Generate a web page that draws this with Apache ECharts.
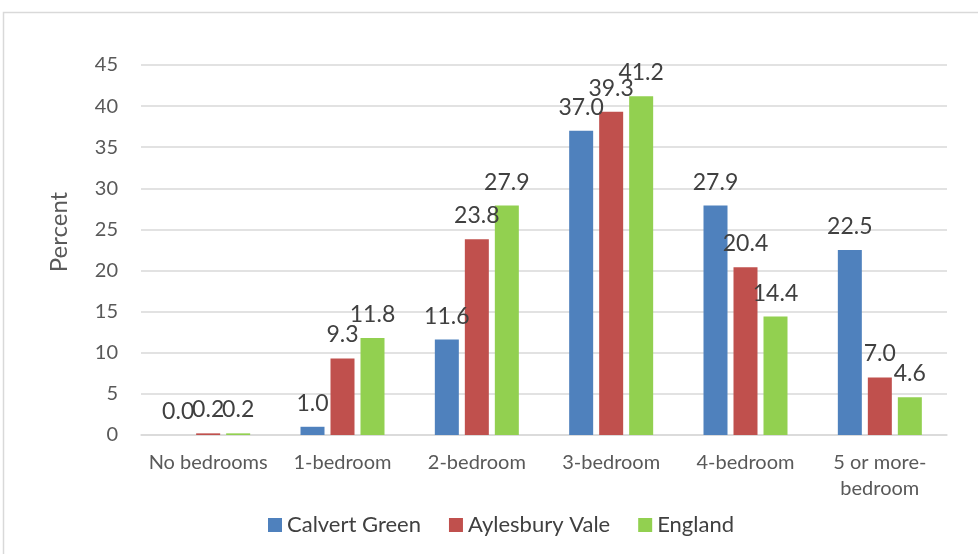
<!DOCTYPE html>
<html><head><meta charset="utf-8">
<script src="https://cdn.jsdelivr.net/npm/echarts@6/dist/echarts.min.js"></script>
<style>html,body{margin:0;padding:0;background:#fff}#c{width:978px;height:554px}</style>
</head><body><div id="c"></div>
<script>
const categories = ['No bedrooms','1-bedroom','2-bedroom','3-bedroom','4-bedroom','5 or more-\nbedroom'];
const calvertGreen = [0.0, 1.0, 11.6, 37.0, 27.9, 22.5];
const aylesburyVale = [0.2, 9.3, 23.8, 39.3, 20.4, 7.0];
const england = [0.2, 11.8, 27.9, 41.2, 14.4, 4.6];
const seriesNames = ['Calvert Green','Aylesbury Vale','England'];
const yTicks = {min:0, max:45, interval:5};

const FONT = 'Lato';
const chart = echarts.init(document.getElementById('c'), null, {renderer:'canvas'});
const lbl = {show:true, position:'top', distance:12, fontSize:23, color:'#404040', fontFamily:FONT,
  formatter: p => p.value.toFixed(1)};
function mk(name, data, color){
  return {name, type:'bar', data, barWidth:24, barGap:'25%', itemStyle:{color}, label:lbl};
}
chart.setOption({
  animation:false,
  textStyle:{fontFamily:FONT},
  graphic:[{type:'rect', shape:{x:3.5,y:12.5,width:1000,height:600}, style:{fill:null, stroke:'#D9D9D9', lineWidth:1.5}, silent:true}],
  grid:{left:141, right:31, top:65, bottom:119},
  legend:{data:seriesNames, top:509, left:263, itemWidth:14, itemHeight:14, itemGap:28,
    icon:'rect', textStyle:{fontSize:22, color:'#404040', fontFamily:FONT}},
  xAxis:{type:'category', data:categories, axisTick:{show:false},
    axisLine:{lineStyle:{color:'#D9D9D9', width:1.5}},
    axisLabel:{fontSize:20, color:'#595959', margin:15, lineHeight:26, interval:0, fontFamily:FONT}},
  yAxis:{type:'value', min:yTicks.min, max:yTicks.max, interval:yTicks.interval,
    name:'Percent', nameLocation:'middle', nameGap:70, nameRotate:90, nameMoveOverlap:false,
    nameTextStyle:{fontSize:24, color:'#595959', fontFamily:FONT, padding:[0,0,0,36]},
    axisLine:{show:false}, axisTick:{show:false},
    axisLabel:{fontSize:20, color:'#595959', margin:23, align:'right', fontFamily:FONT},
    splitLine:{lineStyle:{color:'#D9D9D9', width:1.5}}},
  series:[mk(seriesNames[0], calvertGreen, '#4F81BD'), mk(seriesNames[1], aylesburyVale, '#C0504D'), mk(seriesNames[2], england, '#92D050')]
});
</script></body></html>
